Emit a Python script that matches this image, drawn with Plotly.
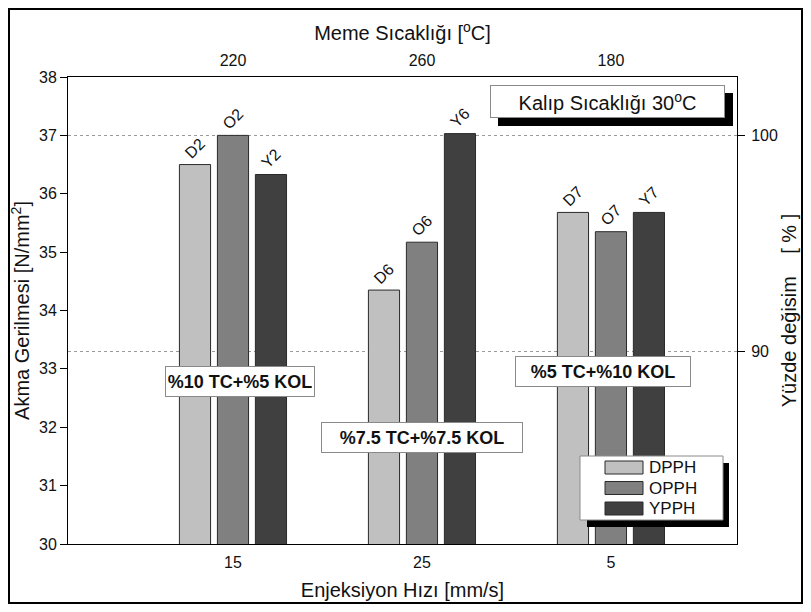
import plotly.graph_objects as go

# ---------------- data ----------------
speeds = ["15", "25", "5"]              # Enjeksiyon Hızı [mm/s]
nozzle_temps = ["220", "260", "180"]   # Meme Sıcaklığı [°C]
series_names = ["DPPH", "OPPH", "YPPH"]
dpph = [36.50, 34.35, 35.68]
opph = [37.00, 35.17, 35.35]
ypph = [36.33, 37.03, 35.68]
dpph_labels = ["D2", "D6", "D7"]
opph_labels = ["O2", "O6", "O7"]
ypph_labels = ["Y2", "Y6", "Y7"]
group_notes = ["%10 TC+%5 KOL", "%7.5 TC+%7.5 KOL", "%5 TC+%10 KOL"]
reference_value = 37.0   # 100 % on the right axis
y_range = [30, 38]
pct_ticks = [90, 100]

colors = ["#c0c0c0", "#808080", "#404040"]
FONT = "Arial, Liberation Sans, sans-serif"

# ---------------- geometry helpers (screen px -> paper) ----------------
OFF = 8                      # page body margin
W, H = 795, 596
ML, MT = 60, 69
PW, PH = 669, 467
MR, MB = W - ML - PW, H - MT - PH


def px_x(sx):
    return (sx - OFF - ML) / PW


def px_y(sy):
    return (MT + PH - (sy - OFF)) / PH


xpos = list(range(len(speeds)))
x_range = [-0.873, 2.667]

fig = go.Figure()
for name, vals, labs, col in zip(series_names, [dpph, opph, ypph],
                                 [dpph_labels, opph_labels, ypph_labels], colors):
    fig.add_trace(go.Bar(
        x=xpos, y=vals, name=name, text=labs,
        textposition="outside", textangle=-45, constraintext="none",
        cliponaxis=False,
        textfont=dict(family=FONT, size=16, color="#111"),
        marker=dict(color=col, line=dict(color="#2a2a2a", width=1)),
        showlegend=False, hoverinfo="skip",
    ))

# dummy trace to create top / right axes
fig.add_trace(go.Scatter(x=[None], y=[None], xaxis="x2", yaxis="y2",
                         showlegend=False, hoverinfo="skip"))

pct_range = [y_range[0] / reference_value * 100, y_range[1] / reference_value * 100]

fig.update_layout(
    width=W, height=H,
    margin=dict(l=ML, r=MR, t=MT, b=MB, autoexpand=False),
    paper_bgcolor="white", plot_bgcolor="white",
    font=dict(family=FONT, size=16, color="#111"),
    barmode="group", bargap=0.397, bargroupgap=0.18,
    xaxis=dict(range=x_range, tickvals=xpos, ticktext=speeds, ticks="",
               showline=True, linecolor="black", linewidth=1, showgrid=False,
               zeroline=False, tickfont=dict(size=16), ticklabelstandoff=4,
               automargin=False,
               title=dict(text="Enjeksiyon Hızı [mm/s]", font=dict(size=20), standoff=12)),
    yaxis=dict(range=y_range, dtick=1, ticks="outside", ticklen=7, tickcolor="black",
               showline=True, linecolor="black", linewidth=1, showgrid=False,
               zeroline=False, tickfont=dict(size=16), automargin=False,
               title=dict(text="Akma Gerilmesi [N/mm<sup>2</sup>]", font=dict(size=20), standoff=6)),
    xaxis2=dict(overlaying="x", side="top", range=x_range, tickvals=xpos,
                ticktext=nozzle_temps, ticks="", showline=True, linecolor="black",
                linewidth=1, showgrid=False, zeroline=False, tickfont=dict(size=16),
                ticklabelstandoff=4, automargin=False,
                title=dict(text="Meme Sıcaklığı [<sup>o</sup>C]", font=dict(size=20), standoff=5)),
    yaxis2=dict(overlaying="y", side="right", range=pct_range, tickvals=pct_ticks,
                ticks="outside", ticklen=7, tickcolor="black", showline=True,
                linecolor="black", linewidth=1, showgrid=True, gridcolor="#9a9a9a",
                griddash="dot", gridwidth=1, zeroline=False, tickfont=dict(size=16),
                ticklabelstandoff=3, automargin=False,
                title=dict(text="Yüzde değisim    [ % ]", font=dict(size=20), standoff=5)),
)

shapes = []
annotations = []

# outer frame
shapes.append(dict(type="rect", xref="paper", yref="paper",
                   x0=px_x(OFF + 1), x1=px_x(OFF + W - 1), y0=px_y(OFF + H - 1), y1=px_y(OFF + 1),
                   line=dict(color="black", width=2), fillcolor="rgba(0,0,0,0)", layer="above"))

# Kalıp Sıcaklığı box (shadow + annotation)
shapes.append(dict(type="rect", xref="paper", yref="paper",
                   x0=px_x(498), x1=px_x(733), y0=px_y(126), y1=px_y(93),
                   line=dict(width=0), fillcolor="black", layer="above"))
annotations.append(dict(xref="paper", yref="paper", x=px_x(607.5), y=px_y(101.5),
                        xanchor="center", yanchor="middle",
                        text="Kalıp Sıcaklığı 30<sup>o</sup>C", showarrow=False,
                        font=dict(size=20), bgcolor="white", bordercolor="#8a8a8a",
                        borderwidth=1, borderpad=3, width=227, height=25))

# group composition notes
note_boxes = [(240, 381, 144), (421.5, 437.5, 196), (603, 371, 170)]
for note, (cx, cy, w) in zip(group_notes, note_boxes):
    annotations.append(dict(xref="paper", yref="paper", x=px_x(cx), y=px_y(cy),
                            xanchor="center", yanchor="middle",
                            text="<b>" + note + "</b>", showarrow=False,
                            font=dict(size=18), bgcolor="white", bordercolor="#8a8a8a",
                            borderwidth=1, borderpad=2, width=w, height=25))

# custom legend
lg_l, lg_t, lg_r, lg_b = 580, 456, 723, 520
shapes.append(dict(type="rect", xref="paper", yref="paper",
                   x0=px_x(lg_l + 7), x1=px_x(lg_r + 6), y0=px_y(lg_b + 7), y1=px_y(lg_t + 7),
                   line=dict(width=0), fillcolor="black", layer="above"))
shapes.append(dict(type="rect", xref="paper", yref="paper",
                   x0=px_x(lg_l), x1=px_x(lg_r), y0=px_y(lg_b), y1=px_y(lg_t),
                   line=dict(color="#8a8a8a", width=1), fillcolor="white", layer="above"))
for i, (name, col) in enumerate(zip(series_names, colors)):
    cy = 467.5 + i * 20.5
    shapes.append(dict(type="rect", xref="paper", yref="paper",
                       x0=px_x(605), x1=px_x(643), y0=px_y(cy + 6.5), y1=px_y(cy - 6.5),
                       line=dict(color="#2a2a2a", width=1), fillcolor=col, layer="above"))
    annotations.append(dict(xref="paper", yref="paper", x=px_x(647), y=px_y(cy),
                            xanchor="left", yanchor="middle", text=name,
                            showarrow=False, font=dict(size=17)))

fig.update_layout(shapes=shapes, annotations=annotations)

fig.write_html("out.html")
